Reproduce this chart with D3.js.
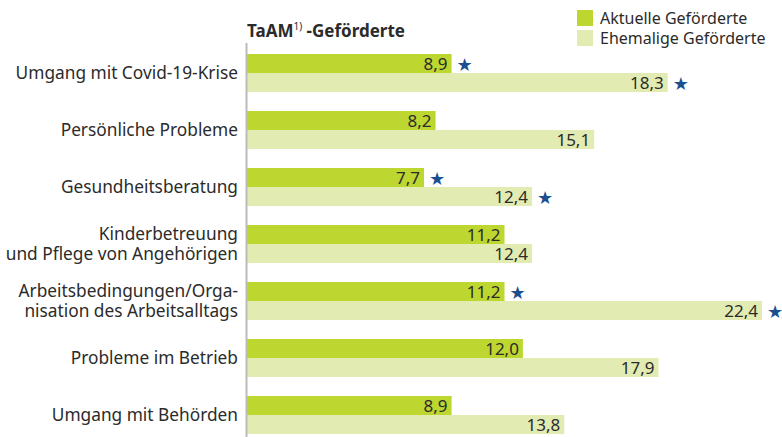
<html>
<head>
<script src="https://d3js.org/d3.v7.min.js"></script>
<style>
  body { margin: 0; background: #fff; }
  text { font-family: "Noto Sans", sans-serif; }
</style>
</head>
<body>
<div id="vis"></div>
<script>
// data
var categories = [
    ["Umgang mit Covid-19-Krise"],
    ["Persönliche Probleme"],
    ["Gesundheitsberatung"],
    ["Kinderbetreuung", "und Pflege von Angehörigen"],
    ["Arbeitsbedingungen/Orga-", "nisation des Arbeitsalltags"],
    ["Probleme im Betrieb"],
    ["Umgang mit Behörden"]
];
var aktuell = [8.9, 8.2, 7.7, 11.2, 11.2, 12.0, 8.9];
var ehemalig = [18.3, 15.1, 12.4, 12.4, 22.4, 17.9, 13.8];
var starAktuell = [true, false, true, false, true, false, false];
var starEhemalig = [true, false, true, false, true, false, false];
var seriesNames = ["Aktuelle Geförderte", "Ehemalige Geförderte"];
var colors = ["#bdd630", "#e2ebb2"];

var W = 782, H = 437;
var x0 = 247;
var textCol = "#2b2b2b";

var svg = d3.select("#vis").append("svg")
    .attr("width", W).attr("height", H);

var x = d3.scaleLinear().domain([0, 22.4]).range([x0, 762]);
var y = d3.scaleBand().domain(d3.range(categories.length)).range([44, 443]);
var barH = 19;

var fmt = function (v) { return d3.format(".1f")(v).replace(".", ","); };

var rows = svg.selectAll("g.row").data(categories).enter().append("g")
    .attr("class", "row")
    .attr("transform", function (d, i) { return "translate(0," + (y(i) + 10) + ")"; });

// bars
rows.append("rect").attr("x", x0).attr("y", 0).attr("height", barH)
    .attr("width", function (d, i) { return x(aktuell[i]) - x0; }).attr("fill", colors[0]);
rows.append("rect").attr("x", x0).attr("y", barH).attr("height", barH)
    .attr("width", function (d, i) { return x(ehemalig[i]) - x0; }).attr("fill", colors[1]);

// values
rows.append("text").attr("x", function (d, i) { return x(aktuell[i]) - 4; })
    .attr("y", barH / 2 + 6).attr("text-anchor", "end").attr("font-size", 17).attr("fill", textCol)
    .text(function (d, i) { return fmt(aktuell[i]); });
rows.append("text").attr("x", function (d, i) { return x(ehemalig[i]) - 4; })
    .attr("y", barH * 1.5 + 6).attr("text-anchor", "end").attr("font-size", 17).attr("fill", textCol)
    .text(function (d, i) { return fmt(ehemalig[i]); });

// stars
rows.filter(function (d, i) { return starAktuell[i]; }).append("text")
    .attr("x", function (d) { return x(aktuell[categories.indexOf(d)]) + 5; })
    .attr("y", barH / 2 + 7).attr("fill", "#1b4f8f").text("\u2605")
    .style("font-family", "DejaVu Sans").attr("font-size", 18);
rows.filter(function (d, i) { return starEhemalig[i]; }).append("text")
    .attr("x", function (d) { return x(ehemalig[categories.indexOf(d)]) + 5; })
    .attr("y", barH * 1.5 + 7).attr("fill", "#1b4f8f").text("\u2605")
    .style("font-family", "DejaVu Sans").attr("font-size", 18);

// category labels
rows.each(function (d) {
    var g = d3.select(this);
    var t = g.append("text").attr("text-anchor", "end").attr("font-size", 17.3).attr("fill", textCol);
    var startY = d.length === 1 ? barH + 6 : barH - 4;
    d.forEach(function (line, j) {
        t.append("tspan").attr("x", 238).attr("y", startY + j * 20).text(line);
    });
});

// axis line
svg.append("line").attr("x1", x0 - 0.5).attr("x2", x0 - 0.5).attr("y1", 43).attr("y2", H)
    .attr("stroke", "#bbb").attr("stroke-width", 2);

// title
var title = svg.append("text").attr("x", 247).attr("y", 37).attr("font-size", 17)
    .attr("font-weight", "bold").attr("fill", textCol);
title.append("tspan").text("TaAM");
title.append("tspan").attr("font-size", 10).attr("dy", -7).attr("font-weight", "normal").text("1)");
title.append("tspan").attr("dy", 7).text(" -Geförderte");

// legend
var leg = svg.selectAll("g.leg").data(seriesNames).enter().append("g")
    .attr("transform", function (d, i) { return "translate(577," + (10 + i * 20) + ")"; });
leg.append("rect").attr("width", 16).attr("height", 16).attr("fill", function (d, i) { return colors[i]; });
leg.append("text").attr("x", 23).attr("y", 14).attr("font-size", 16).attr("fill", textCol).text(function (d) { return d; });
</script>
</body>
</html>
